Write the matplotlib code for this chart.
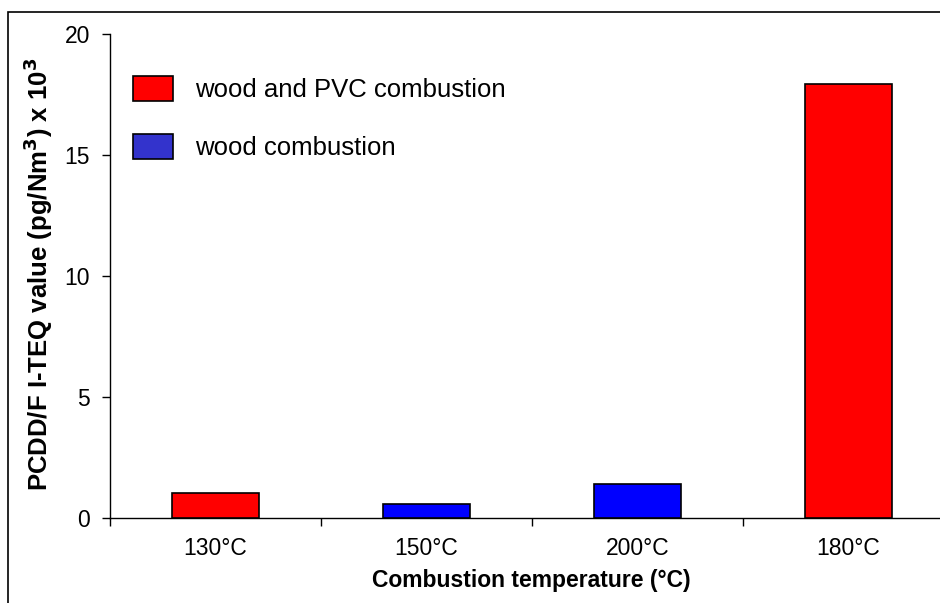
import matplotlib
matplotlib.use("Agg")
import matplotlib.pyplot as plt
from matplotlib.patches import Patch, Rectangle
import numpy as np

plt.rcParams['font.family'] = ['Liberation Sans', 'DejaVu Sans']

categories = ["130°C", "150°C", "200°C", "180°C"]
values = [1.05, 0.57, 1.39, 17.95]
series = ["wood and PVC combustion", "wood combustion", "wood combustion", "wood and PVC combustion"]
bar_colors = {"wood and PVC combustion": "#FF0000", "wood combustion": "#0000FF"}
legend_colors = {"wood and PVC combustion": "#FF0000", "wood combustion": "#3333CC"}
legend_labels = ["wood and PVC combustion", "wood combustion"]
yticks = [0, 5, 10, 15, 20]

W, H = 940, 603
fig = plt.figure(figsize=(W / 100, H / 100), dpi=100)
ax = fig.add_axes([110 / W, (H - 518) / H, (954 - 110) / W, (518 - 34) / H])

x = np.arange(len(categories))
ax.bar(x, values, width=0.41, color=[bar_colors[s] for s in series],
       edgecolor='black', linewidth=1.2, zorder=3)

ax.set_xlim(-0.5, len(categories) - 0.5)
ax.set_ylim(0, 20)
ax.set_yticks(yticks)
ax.set_xticks(x)
ax.set_xticklabels(categories)
ax.set_xticks(np.arange(-0.5, len(categories), 1.0), minor=True)
ax.tick_params(axis='x', which='major', length=0, labelsize=16.5, pad=13.5)
ax.tick_params(axis='x', which='minor', length=6, width=1, direction='out')
ax.tick_params(axis='y', length=6, width=1, direction='out', labelsize=16.5, pad=8.5)

for s in ['top', 'right']:
    ax.spines[s].set_visible(False)
ax.spines['left'].set_linewidth(1)
ax.spines['bottom'].set_linewidth(1)

fig.text(38 / W, 1 - 274 / H,
         "PCDD/F I-TEQ value (pg/Nm$^\\mathbf{3}$) x 10$^\\mathbf{3}$",
         fontsize=18.5, fontweight='bold', rotation=90, ha='center', va='center')
fig.text(531 / W, 1 - 587 / H, "Combustion temperature (°C)", fontsize=16.5,
         fontweight='bold', ha='center', va='baseline')

handles = [Patch(facecolor=legend_colors[l], edgecolor='black', linewidth=1.2, label=l)
           for l in legend_labels]
ax.legend(handles=handles, loc='upper left', frameon=False, fontsize=18.5,
          bbox_to_anchor=((133 - 110) / 844, (518 - 76) / 484),
          borderaxespad=0, borderpad=0, handlelength=1.56, handleheight=1.1,
          handletextpad=0.85, labelspacing=1.25)

fig.patches.append(Rectangle((8 / W, -0.5), 2, (H - 12) / H + 0.5,
                             transform=fig.transFigure, fill=False,
                             edgecolor='black', linewidth=1.2))

fig.savefig("out.png", dpi=100)
